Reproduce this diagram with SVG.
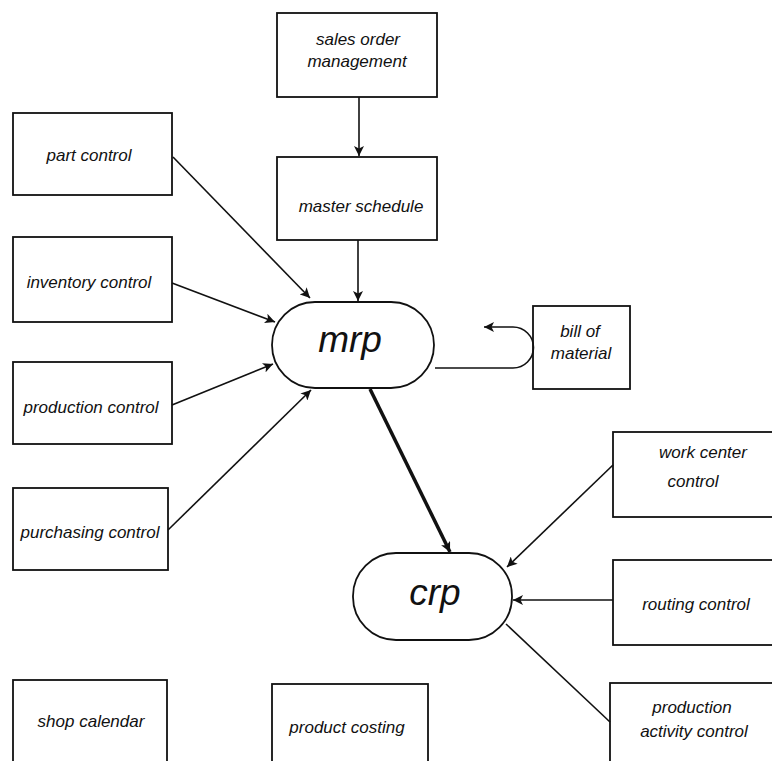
<svg xmlns="http://www.w3.org/2000/svg" width="772" height="761" viewBox="0 0 772 761">
<style>
.box{fill:#fff;stroke:#111;stroke-width:1.8}
.pill{fill:#fff;stroke:#111;stroke-width:1.8}
.t{font-family:"Liberation Sans",Arial,sans-serif;font-style:italic;font-size:17px;fill:#111;text-anchor:middle}
.big{font-family:"Liberation Sans",Arial,sans-serif;font-style:italic;font-size:37px;fill:#111;text-anchor:middle}
.ln{fill:none;stroke:#111;stroke-width:1.6}
.thick{fill:none;stroke:#111;stroke-width:3.5}
</style>
<defs>
<marker id="ah" markerUnits="userSpaceOnUse" markerWidth="12" markerHeight="10" refX="10" refY="5" orient="auto">
<path d="M0,0 L10,5 L0,10 L2.5,5 Z" fill="#111"/>
</marker>
</defs>
<rect width="772" height="761" fill="#fff"/>
<g id="sales-order-management">
<rect class="box" x="277" y="13" width="160" height="84"/>
<text class="t" x="358" y="45">sales order</text>
<text class="t" x="357" y="67">management</text>
</g>
<g id="master-schedule">
<rect class="box" x="277" y="157" width="160" height="83"/>
<text class="t" x="361" y="212">master schedule</text>
</g>
<g id="part-control">
<rect class="box" x="13" y="113" width="159" height="82"/>
<text class="t" x="89" y="161">part control</text>
</g>
<g id="inventory-control">
<rect class="box" x="13" y="237" width="159" height="85"/>
<text class="t" x="89" y="288">inventory control</text>
</g>
<g id="production-control">
<rect class="box" x="13" y="362" width="159" height="82"/>
<text class="t" x="91" y="413">production control</text>
</g>
<g id="purchasing-control">
<rect class="box" x="13" y="488" width="155" height="82"/>
<text class="t" x="90" y="538">purchasing control</text>
</g>
<g id="mrp">
<rect class="pill" x="272" y="302" width="162" height="86" rx="43" ry="43"/>
<text class="big" x="350" y="352">mrp</text>
</g>
<g id="bill-of-material">
<rect class="box" x="533" y="306" width="97" height="83"/>
<text class="t" x="580" y="337">bill of</text>
<text class="t" x="581" y="359">material</text>
</g>
<g id="crp">
<rect class="pill" x="353" y="553" width="159" height="87" rx="43" ry="43"/>
<text class="big" x="435" y="605">crp</text>
</g>
<g id="work-center-control">
<rect class="box" x="613" y="432" width="180" height="85"/>
<text class="t" x="703" y="458">work center</text>
<text class="t" x="693" y="487">control</text>
</g>
<g id="routing-control">
<rect class="box" x="613" y="560" width="180" height="85"/>
<text class="t" x="696" y="610">routing control</text>
</g>
<g id="production-activity-control">
<rect class="box" x="610" y="683" width="180" height="90"/>
<text class="t" x="692" y="713">production</text>
<text class="t" x="694" y="737">activity control</text>
</g>
<g id="shop-calendar">
<rect class="box" x="13" y="680" width="154" height="95"/>
<text class="t" x="91" y="727">shop calendar</text>
</g>
<g id="product-costing">
<rect class="box" x="272" y="684" width="156" height="95"/>
<text class="t" x="347" y="733">product costing</text>
</g>
<g id="connectors">
<line class="ln" x1="359" y1="97" x2="359" y2="156" marker-end="url(#ah)"/>
<line class="ln" x1="358" y1="240" x2="358" y2="301" marker-end="url(#ah)"/>
<line class="ln" x1="173" y1="157" x2="310" y2="298" marker-end="url(#ah)"/>
<line class="ln" x1="172" y1="283" x2="275" y2="322" marker-end="url(#ah)"/>
<line class="ln" x1="172" y1="405" x2="273" y2="364" marker-end="url(#ah)"/>
<line class="ln" x1="168" y1="530" x2="311" y2="390" marker-end="url(#ah)"/>
<path class="ln" d="M435,368 H513 A20.5,20.5 0 0 0 513,327 H484" marker-end="url(#ah)"/>
<line class="thick" x1="370" y1="389" x2="450" y2="552" marker-end="url(#ah)"/>
<line class="ln" x1="613" y1="465" x2="507" y2="567" marker-end="url(#ah)"/>
<line class="ln" x1="613" y1="600" x2="513" y2="600" marker-end="url(#ah)"/>
<line class="ln" x1="610" y1="722" x2="506" y2="624"/>
</g>
</svg>
